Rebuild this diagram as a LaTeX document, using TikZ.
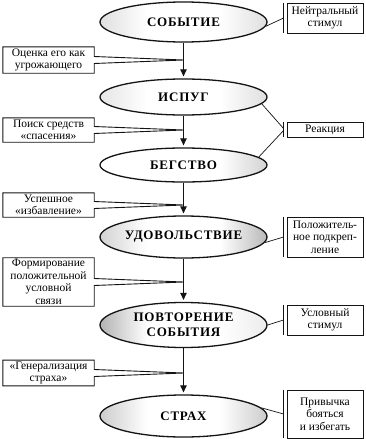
\documentclass[tikz,border=0pt]{standalone}
\usepackage{fontspec}
\setmainfont{Liberation Serif}
\newfontfamily\capsfont[LetterSpace=6]{Liberation Serif}
\usetikzlibrary{shapes.geometric,arrows.meta,calc}
\definecolor{ink}{HTML}{141414}
\colorlet{endL}{gray!30}
\colorlet{endR}{gray!30}
\pgfdeclarehorizontalshading[endL,endR]{endshade}{100bp}{%
  color(0bp)=(endL); color(25bp)=(endL); color(39bp)=(white);
  color(61bp)=(white); color(75bp)=(endR); color(100bp)=(endR)}
\tikzset{
  stage/.style 2 args={
    ellipse,
    draw=ink,
    line width=1.3pt,
    minimum width=167pt,
    inner sep=0pt,
    align=center,
    font=\capsfont\bfseries\fontsize{13}{15}\selectfont,
    /utils/exec={\colorlet{endL}{#1}\colorlet{endR}{#2}},
    shade,
    shading=endshade
  },
  note/.style={
    font=\fontsize{11.5}{12.5}\selectfont,
    align=center,
    minimum width=91pt,
    inner sep=1.5pt
  },
  tag/.style={
    draw=ink,
    line width=0.9pt,
    font=\fontsize{11.5}{12.5}\selectfont,
    align=center,
    minimum width=76pt,
    inner sep=1.5pt
  },
  noteline/.style={
    draw=ink,
    line width=0.9pt,
    line join=miter
  },
  link/.style={
    draw=ink,
    line width=0.7pt
  },
  flow/.style={
    draw=ink,
    line width=1pt,
    -{Triangle[length=7pt,width=6.5pt]},
    shorten >=2pt
  }
}

\begin{document}
\begin{tikzpicture}[x=1pt,y=-1pt]

% Background
\fill[white] (0,0) rectangle (366,439);
\useasboundingbox (0,0) rectangle (366,439);

% ---------- Stages ----------
\node[stage={gray!25}{gray!25}, minimum height=40pt] (sob) at (183.5,22) {СОБЫТИЕ};
\node[stage={gray!20}{gray!25}, minimum height=36pt] (ispug) at (183.5,97) {ИСПУГ};
\node[stage={white}{gray!35}, minimum height=34pt] (begstvo) at (183.5,165) {БЕГСТВО};
\node[stage={gray!35}{gray!55}, minimum height=42pt] (udov) at (183.5,237) {УДОВОЛЬСТВИЕ};
\node[stage={gray!60}{gray!15}, minimum height=45pt] (povt) at (183.5,325) {ПОВТОРЕНИЕ\\СОБЫТИЯ};
\node[stage={gray!40}{gray!40}, minimum height=42pt] (strakh) at (183.5,416) {СТРАХ};

\draw[flow] (sob) -- (ispug);
\draw[flow] (ispug) -- (begstvo);
\draw[flow] (begstvo) -- (udov);
\draw[flow] (udov) -- (povt);
\draw[flow] (povt) -- (strakh);

% ---------- Left notes ----------
\node[note, minimum height=26pt] (ocenka) at (48.5,60) {Оценка его как\\угрожающего};
\node[note, minimum height=24pt] (poisk) at (48.5,130) {Поиск средств\\«спасения»};
\node[note, minimum height=24pt] (uspeh) at (48.5,205) {Успешное\\«избавление»};
\node[note, minimum height=48pt] (form) at (48.5,282) {Формирование\\положительной\\условной\\связи};
\node[note, minimum height=22pt] (gener) at (48.5,373) {«Генерализация\\страха»};

\foreach \nm/\up in {ocenka/sob, poisk/ispug, uspeh/begstvo, form/udov, gener/povt}{
  \coordinate (\nm tip) at (\up.south |- \nm.east);
  \draw[noteline] (\nm.north east) -- ([yshift=3.5pt]\nm.east) -- (\nm tip)
    -- ([yshift=-3.5pt]\nm.east) -- (\nm.south east) -- (\nm.south west)
    -- (\nm.north west) -- cycle;
}

% ---------- Right tags ----------
\node[tag, minimum height=30pt] (nstim) at (325,18) {Нейтральный\\стимул};
\node[tag, minimum height=15pt] (reak) at (325,129.5) {Реакция};
\node[tag, minimum height=40pt] (podkr) at (325,237) {Положитель-\\ное подкреп-\\ление};
\node[tag, minimum height=30pt] (uslov) at (325,320) {Условный\\стимул};
\node[tag, minimum height=48pt] (priv) at (325,414) {Привычка\\бояться\\и избегать};

\foreach \nm in {nstim, reak, podkr, uslov, priv}{
  \draw[noteline] ([xshift=-3pt]\nm.north west) -- ([xshift=-3pt]\nm.south west);
}

\draw[link] (sob.-3) -- ([xshift=-3pt]nstim.west);
\draw[link] (ispug.-5) -- ([xshift=-3pt,yshift=1pt]reak.west);
\draw[link] (begstvo.6) -- ([xshift=-3pt,yshift=-1pt]reak.west);
\draw[link] (udov.-4) -- ([xshift=-3pt]podkr.west);
\draw[link] (povt.east) -- ([xshift=-3pt]uslov.west);
\draw[link] (strakh.6) -- ([xshift=-3pt]priv.west);

\end{tikzpicture}
\end{document}
